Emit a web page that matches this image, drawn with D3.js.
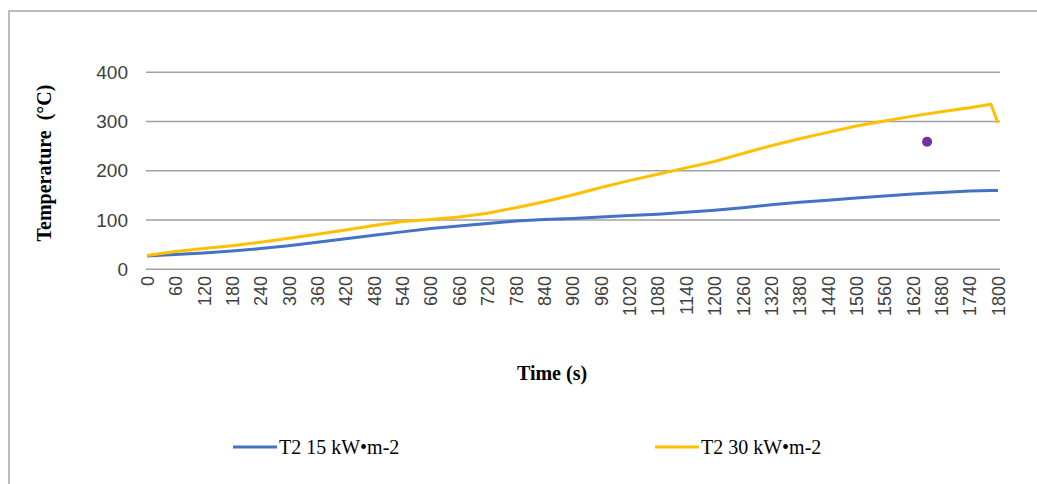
<!DOCTYPE html>
<html>
<head>
<meta charset="utf-8">
<script src="https://cdn.jsdelivr.net/npm/d3@7"></script>
<style>
  html, body { margin: 0; padding: 0; background: #fff; }
  svg { display: block; }
</style>
</head>
<body>
<svg id="chart" width="1037" height="484"></svg>
<script>
// Sample times (s) and temperatures (°C) for each heat flux
const times = [0, 60, 120, 180, 240, 300, 360, 420, 480, 540, 600, 660, 720, 780, 840, 900,
               960, 1020, 1080, 1140, 1200, 1260, 1320, 1380, 1440, 1500, 1560, 1620, 1680, 1740, 1785, 1800];
const t2_15 = [27, 30, 33, 37, 42, 48, 55, 62, 69, 76, 83, 88, 93, 98, 101, 103,
               106, 109, 112, 116, 120, 125, 131, 136, 140, 145, 149, 153, 156, 159, 160, 160];
const t2_30 = [28, 36, 42, 48, 55, 63, 71, 80, 89, 97, 101, 106, 114, 125, 137, 151,
               166, 180, 193, 206, 219, 235, 251, 265, 278, 291, 301, 311, 320, 328, 335, 297];
// Single reading plotted on its own
const extraPoint = { time: 1650, temp: 259 };

const xTicks = d3.range(0, 1801, 60);
const yTicks = [0, 100, 200, 300, 400];

const seriesNames = ["T2 15 kW•m-2", "T2 30 kW•m-2"];
const seriesColors = ["#4472C4", "#FFC000"];

const svg = d3.select("#chart");

// Outer frame
svg.append("rect")
  .attr("x", 9).attr("y", 11)
  .attr("width", 1060).attr("height", 520)
  .attr("fill", "none")
  .attr("stroke", "#a6a6a6")
  .attr("stroke-width", 1.5);

const x = d3.scaleLinear().domain([0, 1800]).range([147, 998]);
const y = d3.scaleLinear().domain([0, 400]).range([269.3, 72.3]);

// Horizontal gridlines
svg.append("g")
  .selectAll("line")
  .data(yTicks)
  .join("line")
  .attr("x1", 146).attr("x2", 1000)
  .attr("y1", d => y(d)).attr("y2", d => y(d))
  .attr("stroke", "#a0a0a0")
  .attr("stroke-width", 1.5);

// Y axis labels
const yAxis = d3.axisLeft(y).tickValues(yTicks).tickSize(0).tickPadding(0);
svg.append("g")
  .attr("transform", "translate(128,0)")
  .call(yAxis)
  .call(g => g.select(".domain").remove())
  .selectAll("text")
  .attr("font-family", "'Liberation Sans', Arial, sans-serif")
  .attr("font-size", 19)
  .attr("fill", "#404040");

// X axis labels, rotated
const xAxis = d3.axisBottom(x).tickValues(xTicks).tickSize(0).tickPadding(0).tickFormat(d3.format("d"));
svg.append("g")
  .attr("transform", "translate(0,276)")
  .call(xAxis)
  .call(g => g.select(".domain").remove())
  .selectAll("text")
  .attr("font-family", "'Liberation Sans', Arial, sans-serif")
  .attr("font-size", 18)
  .attr("fill", "#404040")
  .attr("text-anchor", "end")
  .attr("transform", "rotate(-90)")
  .attr("x", 0)
  .attr("y", 0)
  .attr("dy", "0.35em");

// Series lines
const line = d3.line()
  .x((d, i) => x(times[i]))
  .y(d => y(d));

[t2_15, t2_30].forEach((vals, k) => {
  svg.append("path")
    .datum(vals)
    .attr("d", line)
    .attr("fill", "none")
    .attr("stroke", seriesColors[k])
    .attr("stroke-width", 3)
    .attr("stroke-linejoin", "round");
});

// Lone marker
svg.append("circle")
  .attr("cx", x(extraPoint.time))
  .attr("cy", y(extraPoint.temp))
  .attr("r", 5)
  .attr("fill", "#7030A0");

// Axis titles
svg.append("text")
  .attr("transform", "translate(51,163) rotate(-90)")
  .attr("text-anchor", "middle")
  .attr("font-family", "'Liberation Serif', 'Times New Roman', serif")
  .attr("font-weight", "bold")
  .attr("font-size", 20)
  .attr("fill", "#000")
  .attr("xml:space", "preserve")
  .text("Temperature  (°C)");

svg.append("text")
  .attr("x", 552).attr("y", 380)
  .attr("text-anchor", "middle")
  .attr("font-family", "'Liberation Serif', 'Times New Roman', serif")
  .attr("font-weight", "bold")
  .attr("font-size", 20)
  .attr("fill", "#000")
  .text("Time (s)");

// Legend
const legendPos = [233, 655];
seriesNames.forEach((name, k) => {
  const g = svg.append("g").attr("transform", `translate(${legendPos[k]},447)`);
  g.append("line")
    .attr("x1", 0).attr("x2", 44)
    .attr("y1", 0).attr("y2", 0)
    .attr("stroke", seriesColors[k])
    .attr("stroke-width", 3);
  g.append("text")
    .attr("x", 46).attr("y", 7)
    .attr("font-family", "'Liberation Serif', 'Times New Roman', serif")
    .attr("font-size", 20)
    .attr("fill", "#000")
    .text(name);
});
</script>
</body>
</html>
